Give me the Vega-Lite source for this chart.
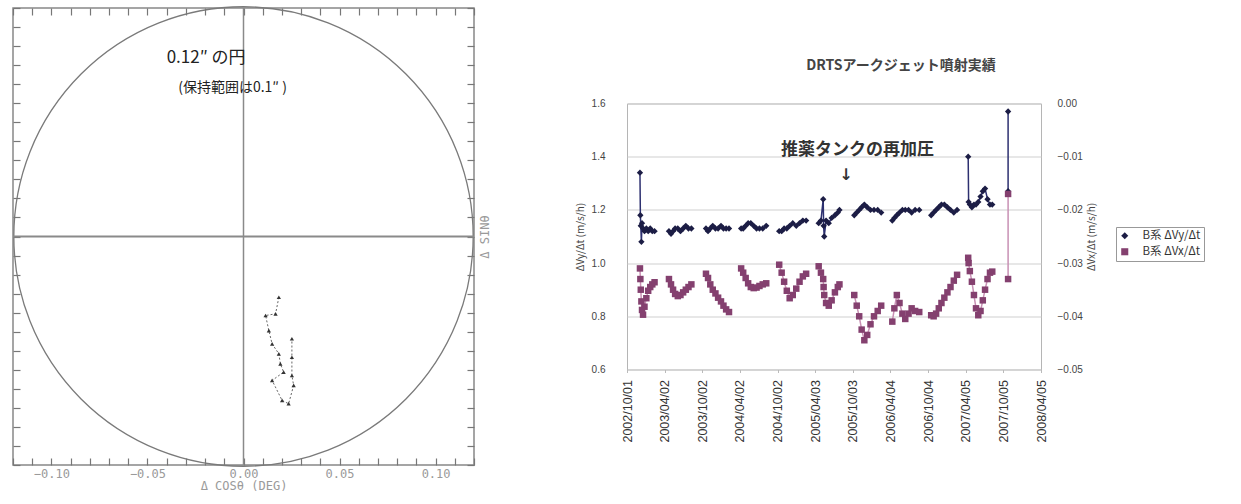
{
  "$schema": "https://vega.github.io/schema/vega-lite/v6.json",
  "padding": {"left": 10, "top": 3, "right": 0, "bottom": 0},
  "background": "white",
  "center": true,
  "bounds": "flush",
  "spacing": 153,
  "config": {"view": {"stroke": null}, "font": "DejaVu Sans", "axis": {"minExtent": 0}},
  "datasets": {
    "drift": [
      {"i": 1, "dx": 0.0184, "dy": -0.0319},
      {"i": 2, "dx": 0.0167, "dy": -0.0406},
      {"i": 3, "dx": 0.0115, "dy": -0.0415},
      {"i": 4, "dx": 0.0132, "dy": -0.0494},
      {"i": 5, "dx": 0.0149, "dy": -0.0564},
      {"i": 6, "dx": 0.0184, "dy": -0.0616},
      {"i": 7, "dx": 0.0192, "dy": -0.0669},
      {"i": 8, "dx": 0.0209, "dy": -0.0712},
      {"i": 9, "dx": 0.0149, "dy": -0.0756},
      {"i": 10, "dx": 0.0201, "dy": -0.0861},
      {"i": 11, "dx": 0.0235, "dy": -0.0878},
      {"i": 12, "dx": 0.0261, "dy": -0.0782},
      {"i": 13, "dx": 0.0252, "dy": -0.0730},
      {"i": 14, "dx": 0.0252, "dy": -0.0634},
      {"i": 15, "dx": 0.0252, "dy": -0.0537}
    ],
    "arcjet": [
      {"d": "2002-12-03", "s": 1, "vy": 1.34, "vx": -0.0310},
      {"d": "2002-12-05", "s": 1, "vy": 1.18, "vx": -0.0330},
      {"d": "2002-12-07", "s": 1, "vy": 1.14, "vx": -0.0350},
      {"d": "2002-12-10", "s": 1, "vy": 1.08, "vx": -0.0372},
      {"d": "2002-12-13", "s": 1, "vy": 1.15, "vx": -0.0388},
      {"d": "2002-12-18", "s": 1, "vy": 1.13, "vx": -0.0397},
      {"d": "2002-12-25", "s": 1, "vy": 1.12, "vx": -0.0382},
      {"d": "2003-01-03", "s": 1, "vy": 1.13, "vx": -0.0366},
      {"d": "2003-01-12", "s": 1, "vy": 1.12, "vx": -0.0352},
      {"d": "2003-01-22", "s": 1, "vy": 1.13, "vx": -0.0345},
      {"d": "2003-02-01", "s": 1, "vy": 1.12, "vx": -0.0340},
      {"d": "2003-02-12", "s": 1, "vy": 1.12, "vx": -0.0336},
      {"d": "2003-04-23", "s": 2, "vy": 1.12, "vx": -0.0330},
      {"d": "2003-05-03", "s": 2, "vy": 1.11, "vx": -0.0340},
      {"d": "2003-05-13", "s": 2, "vy": 1.12, "vx": -0.0350},
      {"d": "2003-05-23", "s": 2, "vy": 1.13, "vx": -0.0358},
      {"d": "2003-06-05", "s": 2, "vy": 1.13, "vx": -0.0362},
      {"d": "2003-06-18", "s": 2, "vy": 1.12, "vx": -0.0360},
      {"d": "2003-07-01", "s": 2, "vy": 1.13, "vx": -0.0355},
      {"d": "2003-07-14", "s": 2, "vy": 1.14, "vx": -0.0350},
      {"d": "2003-07-27", "s": 2, "vy": 1.13, "vx": -0.0345},
      {"d": "2003-08-10", "s": 2, "vy": 1.13, "vx": -0.0340},
      {"d": "2003-10-20", "s": 3, "vy": 1.13, "vx": -0.0320},
      {"d": "2003-10-30", "s": 3, "vy": 1.12, "vx": -0.0328},
      {"d": "2003-11-10", "s": 3, "vy": 1.13, "vx": -0.0340},
      {"d": "2003-11-22", "s": 3, "vy": 1.14, "vx": -0.0350},
      {"d": "2003-12-05", "s": 3, "vy": 1.13, "vx": -0.0357},
      {"d": "2003-12-18", "s": 3, "vy": 1.13, "vx": -0.0365},
      {"d": "2004-01-01", "s": 3, "vy": 1.14, "vx": -0.0372},
      {"d": "2004-01-13", "s": 3, "vy": 1.13, "vx": -0.0380},
      {"d": "2004-01-26", "s": 3, "vy": 1.13, "vx": -0.0387},
      {"d": "2004-02-09", "s": 3, "vy": 1.13, "vx": -0.0392},
      {"d": "2004-04-08", "s": 4, "vy": 1.13, "vx": -0.0310},
      {"d": "2004-04-18", "s": 4, "vy": 1.13, "vx": -0.0318},
      {"d": "2004-04-30", "s": 4, "vy": 1.14, "vx": -0.0328},
      {"d": "2004-05-12", "s": 4, "vy": 1.15, "vx": -0.0338},
      {"d": "2004-05-25", "s": 4, "vy": 1.15, "vx": -0.0345},
      {"d": "2004-06-08", "s": 4, "vy": 1.14, "vx": -0.0347},
      {"d": "2004-06-22", "s": 4, "vy": 1.13, "vx": -0.0346},
      {"d": "2004-07-06", "s": 4, "vy": 1.13, "vx": -0.0343},
      {"d": "2004-07-22", "s": 4, "vy": 1.13, "vx": -0.0340},
      {"d": "2004-08-08", "s": 4, "vy": 1.14, "vx": -0.0338},
      {"d": "2004-10-10", "s": 5, "vy": 1.12, "vx": -0.0303},
      {"d": "2004-10-22", "s": 5, "vy": 1.12, "vx": -0.0318},
      {"d": "2004-11-03", "s": 5, "vy": 1.13, "vx": -0.0335},
      {"d": "2004-11-16", "s": 5, "vy": 1.13, "vx": -0.0352},
      {"d": "2004-11-30", "s": 5, "vy": 1.14, "vx": -0.0366},
      {"d": "2004-12-15", "s": 5, "vy": 1.15, "vx": -0.0360},
      {"d": "2005-01-01", "s": 5, "vy": 1.14, "vx": -0.0348},
      {"d": "2005-01-17", "s": 5, "vy": 1.15, "vx": -0.0335},
      {"d": "2005-02-02", "s": 5, "vy": 1.16, "vx": -0.0325},
      {"d": "2005-02-18", "s": 5, "vy": 1.16, "vx": -0.0320},
      {"d": "2005-04-20", "s": 6, "vy": 1.15, "vx": -0.0306},
      {"d": "2005-05-01", "s": 6, "vy": 1.16, "vx": -0.0318},
      {"d": "2005-05-12", "s": 6, "vy": 1.24, "vx": -0.0330},
      {"d": "2005-05-14", "s": 6, "vy": 1.14, "vx": -0.0345},
      {"d": "2005-05-17", "s": 6, "vy": 1.10, "vx": -0.0360},
      {"d": "2005-05-26", "s": 6, "vy": 1.16, "vx": -0.0375},
      {"d": "2005-06-08", "s": 6, "vy": 1.15, "vx": -0.0380},
      {"d": "2005-06-22", "s": 6, "vy": 1.17, "vx": -0.0370},
      {"d": "2005-07-08", "s": 6, "vy": 1.18, "vx": -0.0355},
      {"d": "2005-07-22", "s": 6, "vy": 1.19, "vx": -0.0345},
      {"d": "2005-07-30", "s": 6, "vy": 1.20, "vx": -0.0340},
      {"d": "2005-10-10", "s": 7, "vy": 1.18, "vx": -0.0360},
      {"d": "2005-10-22", "s": 7, "vy": 1.19, "vx": -0.0380},
      {"d": "2005-11-03", "s": 7, "vy": 1.20, "vx": -0.0400},
      {"d": "2005-11-15", "s": 7, "vy": 1.21, "vx": -0.0425},
      {"d": "2005-11-28", "s": 7, "vy": 1.22, "vx": -0.0445},
      {"d": "2005-12-12", "s": 7, "vy": 1.21, "vx": -0.0435},
      {"d": "2005-12-28", "s": 7, "vy": 1.20, "vx": -0.0415},
      {"d": "2006-01-14", "s": 7, "vy": 1.20, "vx": -0.0400},
      {"d": "2006-02-01", "s": 7, "vy": 1.20, "vx": -0.0390},
      {"d": "2006-02-18", "s": 7, "vy": 1.19, "vx": -0.0380},
      {"d": "2006-04-13", "s": 8, "vy": 1.16, "vx": -0.0410},
      {"d": "2006-04-23", "s": 8, "vy": 1.17, "vx": -0.0385},
      {"d": "2006-05-05", "s": 8, "vy": 1.18, "vx": -0.0360},
      {"d": "2006-05-18", "s": 8, "vy": 1.19, "vx": -0.0375},
      {"d": "2006-06-01", "s": 8, "vy": 1.20, "vx": -0.0395},
      {"d": "2006-06-15", "s": 8, "vy": 1.20, "vx": -0.0405},
      {"d": "2006-07-01", "s": 8, "vy": 1.20, "vx": -0.0395},
      {"d": "2006-07-16", "s": 8, "vy": 1.19, "vx": -0.0385},
      {"d": "2006-08-02", "s": 8, "vy": 1.20, "vx": -0.0390},
      {"d": "2006-08-22", "s": 8, "vy": 1.20, "vx": -0.0392},
      {"d": "2006-10-19", "s": 9, "vy": 1.18, "vx": -0.0398},
      {"d": "2006-10-31", "s": 9, "vy": 1.19, "vx": -0.0400},
      {"d": "2006-11-12", "s": 9, "vy": 1.20, "vx": -0.0395},
      {"d": "2006-11-25", "s": 9, "vy": 1.21, "vx": -0.0385},
      {"d": "2006-12-08", "s": 9, "vy": 1.22, "vx": -0.0375},
      {"d": "2006-12-22", "s": 9, "vy": 1.22, "vx": -0.0365},
      {"d": "2007-01-06", "s": 9, "vy": 1.21, "vx": -0.0355},
      {"d": "2007-01-21", "s": 9, "vy": 1.20, "vx": -0.0345},
      {"d": "2007-02-06", "s": 9, "vy": 1.19, "vx": -0.0333},
      {"d": "2007-02-22", "s": 9, "vy": 1.20, "vx": -0.0322},
      {"d": "2007-04-17", "s": 10, "vy": 1.40, "vx": -0.0290},
      {"d": "2007-04-19", "s": 10, "vy": 1.23, "vx": -0.0300},
      {"d": "2007-04-25", "s": 10, "vy": 1.22, "vx": -0.0315},
      {"d": "2007-05-05", "s": 10, "vy": 1.21, "vx": -0.0335},
      {"d": "2007-05-15", "s": 10, "vy": 1.22, "vx": -0.0360},
      {"d": "2007-05-25", "s": 10, "vy": 1.22, "vx": -0.0385},
      {"d": "2007-06-05", "s": 10, "vy": 1.23, "vx": -0.0398},
      {"d": "2007-06-16", "s": 10, "vy": 1.25, "vx": -0.0390},
      {"d": "2007-06-27", "s": 10, "vy": 1.27, "vx": -0.0370},
      {"d": "2007-07-08", "s": 10, "vy": 1.28, "vx": -0.0350},
      {"d": "2007-07-20", "s": 10, "vy": 1.24, "vx": -0.0330},
      {"d": "2007-08-01", "s": 10, "vy": 1.22, "vx": -0.0318},
      {"d": "2007-08-12", "s": 10, "vy": 1.22, "vx": -0.0316},
      {"d": "2007-10-28", "s": 11, "vy": 1.57, "vx": -0.0170},
      {"d": "2007-10-28", "s": 11, "vy": 1.27, "vx": -0.0330}
    ]
  },
  "hconcat": [
    {
      "width": 461,
      "height": 457,
      "view": {"stroke": "#888", "strokeWidth": 1.5},
      "layer": [
        {
          "data": {"values": [{"cx": 0, "cy": 0}]},
          "mark": {"type": "point", "shape": "circle", "filled": false, "size": 211000, "stroke": "#7a7a7a", "strokeWidth": 1.3, "opacity": 1},
          "encoding": {
            "x": {"field": "cx", "type": "quantitative", "scale": {"domain": [-0.12, 0.12], "nice": false, "zero": false},
              "axis": {"orient": "bottom", "values": [-0.12,-0.11,-0.1,-0.09,-0.08,-0.07,-0.06,-0.05,-0.04,-0.03,-0.02,-0.01,0,0.01,0.02,0.03,0.04,0.05,0.06,0.07,0.08,0.09,0.1,0.11,0.12],
                "tickSize": -7, "tickColor": "#777", "tickWidth": 1.2, "labelPadding": 10, "domain": false, "grid": false,
                "labelExpr": "round(datum.value*100) % 5 == 0 ? format(datum.value, '.2f') : ''",
                "labelColor": "#9a9a9a", "labelFont": "DejaVu Sans Mono", "labelFontSize": 12, "labelOverlap": false, "labelFlush": false,
                "title": "Δ COSθ (DEG)", "titleColor": "#9a9a9a", "titleFont": "DejaVu Sans Mono", "titleFontSize": 12, "titleFontWeight": "normal", "titlePadding": 1}},
            "y": {"field": "cy", "type": "quantitative", "scale": {"domain": [-0.12, 0.12], "nice": false, "zero": false},
              "axis": {"orient": "left", "values": [-0.12,-0.11,-0.1,-0.09,-0.08,-0.07,-0.06,-0.05,-0.04,-0.03,-0.02,-0.01,0,0.01,0.02,0.03,0.04,0.05,0.06,0.07,0.08,0.09,0.1,0.11,0.12],
                "tickSize": -7, "tickColor": "#777", "tickWidth": 1.2, "labels": false, "domain": false, "grid": false, "title": null, "minExtent": 0, "maxExtent": 0}}
          }
        },
        {
          "data": {"values": [{"v": 0}]},
          "mark": {"type": "rule", "color": "#8a8a8a", "strokeWidth": 1.5},
          "encoding": {
            "x": {"field": "v", "type": "quantitative",
              "axis": {"orient": "top", "values": [-0.12,-0.11,-0.1,-0.09,-0.08,-0.07,-0.06,-0.05,-0.04,-0.03,-0.02,-0.01,0,0.01,0.02,0.03,0.04,0.05,0.06,0.07,0.08,0.09,0.1,0.11,0.12],
                "tickSize": -7, "tickColor": "#777", "tickWidth": 1.2, "labels": false, "domain": false, "grid": false, "title": null, "minExtent": 0, "maxExtent": 0}}
          }
        },
        {
          "data": {"values": [{"v": 0}]},
          "mark": {"type": "rule", "color": "#8a8a8a", "strokeWidth": 2},
          "encoding": {
            "y": {"field": "v", "type": "quantitative",
              "axis": {"orient": "right", "values": [-0.12,-0.11,-0.1,-0.09,-0.08,-0.07,-0.06,-0.05,-0.04,-0.03,-0.02,-0.01,0,0.01,0.02,0.03,0.04,0.05,0.06,0.07,0.08,0.09,0.1,0.11,0.12],
                "tickSize": -7, "tickColor": "#777", "tickWidth": 1.2, "labels": false, "domain": false, "grid": false,
                "title": "Δ SINθ", "titleAngle": 270, "titleColor": "#9a9a9a", "titleFont": "DejaVu Sans Mono", "titleFontSize": 12, "titleFontWeight": "normal", "titlePadding": 17}}
          }
        },
        {
          "data": {"name": "drift"},
          "mark": {"type": "line", "color": "#666", "strokeWidth": 1, "strokeDash": [2, 2]},
          "encoding": {
            "x": {"field": "dx", "type": "quantitative", "axis": null},
            "y": {"field": "dy", "type": "quantitative", "axis": null},
            "order": {"field": "i"}
          }
        },
        {
          "data": {"name": "drift"},
          "mark": {"type": "point", "shape": "triangle-up", "filled": true, "size": 18, "color": "#333", "opacity": 1},
          "encoding": {
            "x": {"field": "dx", "type": "quantitative", "axis": null},
            "y": {"field": "dy", "type": "quantitative", "axis": null}
          }
        },
        {
          "data": {"values": [
            {"tx": -0.040, "ty": 0.0935, "t": "0.12″ の円", "k": "a"},
            {"tx": -0.034, "ty": 0.078, "t": "(保持範囲は0.1″ )", "k": "b"}
          ]},
          "mark": {"type": "text", "align": "left", "baseline": "middle", "font": "Noto Sans CJK JP", "color": "#222"},
          "encoding": {
            "x": {"field": "tx", "type": "quantitative", "axis": null},
            "y": {"field": "ty", "type": "quantitative", "axis": null},
            "text": {"field": "t"},
            "size": {"field": "k", "type": "nominal", "scale": {"domain": ["a", "b"], "range": [17, 14]}, "legend": null}
          }
        }
      ],
      "resolve": {"axis": {"x": "independent", "y": "independent"}}
    },
    {
      "width": 414,
      "height": 266,
      "view": {"stroke": "#b5b5b5", "strokeWidth": 1},
      "title": {"text": "DRTSアークジェット噴射実績", "font": "Noto Sans CJK JP", "fontSize": 14, "fontWeight": "bold", "color": "#444", "anchor": "middle", "frame": "group", "dx": 67, "offset": 26},
      "data": {"name": "arcjet"},
      "encoding": {
        "x": {"field": "d", "type": "temporal",
          "scale": {"type": "utc", "domain": [{"year": 2002, "month": 10, "date": 1, "utc": true}, {"year": 2008, "month": 4, "date": 5, "utc": true}]},
          "axis": {"values": [
            {"year": 2002, "month": 10, "date": 1, "utc": true},
            {"year": 2003, "month": 4, "date": 2, "utc": true},
            {"year": 2003, "month": 10, "date": 2, "utc": true},
            {"year": 2004, "month": 4, "date": 2, "utc": true},
            {"year": 2004, "month": 10, "date": 2, "utc": true},
            {"year": 2005, "month": 4, "date": 3, "utc": true},
            {"year": 2005, "month": 10, "date": 3, "utc": true},
            {"year": 2006, "month": 4, "date": 4, "utc": true},
            {"year": 2006, "month": 10, "date": 4, "utc": true},
            {"year": 2007, "month": 4, "date": 5, "utc": true},
            {"year": 2007, "month": 10, "date": 5, "utc": true},
            {"year": 2008, "month": 4, "date": 5, "utc": true}],
            "labelExpr": "utcFormat(datum.value, '%Y/%m/%d')", "labelAngle": 270, "labelFontSize": 12.5, "labelColor": "#333", "labelFont": "Liberation Sans",
            "tickSize": 3, "tickColor": "#bbb", "domain": false, "grid": false, "title": null, "labelPadding": 7, "labelOverlap": false, "labelFlush": false}}
      },
      "layer": [
        {
          "layer": [
            {
              "mark": {"type": "line", "color": "#2d3070", "strokeWidth": 1.5},
              "encoding": {
                "y": {"field": "vy", "type": "quantitative",
                  "scale": {"domain": [0.6, 1.6], "nice": false, "zero": false},
                  "axis": {"values": [0.6, 0.8, 1.0, 1.2, 1.4, 1.6], "format": ".1f", "grid": true, "gridColor": "#cfcfcf", "ticks": false, "domain": false,
                    "labelPadding": 22, "labelFontSize": 10, "labelColor": "#444", "labelFont": "Liberation Sans",
                    "title": "ΔVy/Δt (m/s/h)", "titleFont": "Noto Sans CJK JP", "titleFontSize": 10, "titleFontWeight": "normal", "titleColor": "#444", "titlePadding": 6}},
                "detail": {"field": "s"}
              }
            },
            {
              "mark": {"type": "point", "filled": true, "size": 40, "opacity": 1},
              "encoding": {
                "y": {"field": "vy", "type": "quantitative"},
                "color": {"datum": "B系 ΔVy/Δt", "type": "nominal",
                  "scale": {"domain": ["B系 ΔVy/Δt", "B系 ΔVx/Δt"], "range": ["#1c1d45", "#84406f"]},
                  "legend": {"title": null, "orient": "none", "legendX": 1103, "legendY": 219, "strokeColor": "#999", "padding": 3, "labelFont": "Noto Sans CJK JP", "labelFontSize": 11.5, "labelColor": "#333", "labelOffset": 12, "rowPadding": 3, "symbolSize": 50}},
                "shape": {"datum": "B系 ΔVy/Δt", "type": "nominal",
                  "scale": {"domain": ["B系 ΔVy/Δt", "B系 ΔVx/Δt"], "range": ["diamond", "square"]},
                  "legend": {"title": null, "orient": "none", "legendX": 1103, "legendY": 219, "strokeColor": "#999", "padding": 3, "labelFont": "Noto Sans CJK JP", "labelFontSize": 11.5, "labelColor": "#333", "labelOffset": 12, "rowPadding": 3, "symbolSize": 50}}
              }
            },
            {
              "data": {"values": [{"d": "2004-10-19", "vy": 1.427, "t": "推薬タンクの再加圧"}]},
              "mark": {"type": "text", "align": "left", "baseline": "middle", "font": "Noto Sans CJK JP", "fontSize": 17, "fontWeight": "bold", "color": "#333"},
              "encoding": {
                "y": {"field": "vy", "type": "quantitative"},
                "text": {"field": "t"}
              }
            },
            {
              "data": {"values": [{"d": "2005-08-31", "vy": 1.33, "t": "↓"}]},
              "mark": {"type": "text", "align": "center", "baseline": "middle", "font": "DejaVu Sans", "fontSize": 16, "fontWeight": "bold", "color": "#333"},
              "encoding": {
                "y": {"field": "vy", "type": "quantitative"},
                "text": {"field": "t"}
              }
            }
          ]
        },
        {
          "layer": [
            {
              "mark": {"type": "line", "color": "#c890b4", "strokeWidth": 1.5},
              "encoding": {
                "y": {"field": "vx", "type": "quantitative",
                  "scale": {"domain": [-0.05, 0], "nice": false, "zero": false},
                  "axis": {"orient": "right", "values": [-0.05, -0.04, -0.03, -0.02, -0.01, 0], "format": ".2f", "grid": false, "ticks": false, "domain": false,
                    "labelPadding": 16, "labelFontSize": 10, "labelColor": "#444", "labelFont": "Liberation Sans",
                    "title": "ΔVx/Δt (m/s/h)", "titleAngle": 270, "titleFont": "Noto Sans CJK JP", "titleFontSize": 10, "titleFontWeight": "normal", "titleColor": "#444", "titlePadding": 14}},
                "detail": {"field": "s"}
              }
            },
            {
              "mark": {"type": "point", "filled": true, "size": 42, "opacity": 1},
              "encoding": {
                "y": {"field": "vx", "type": "quantitative"},
                "color": {"datum": "B系 ΔVx/Δt", "type": "nominal"},
                "shape": {"datum": "B系 ΔVx/Δt", "type": "nominal"}
              }
            }
          ]
        }
      ],
      "resolve": {"scale": {"y": "independent"}}
    }
  ]
}
